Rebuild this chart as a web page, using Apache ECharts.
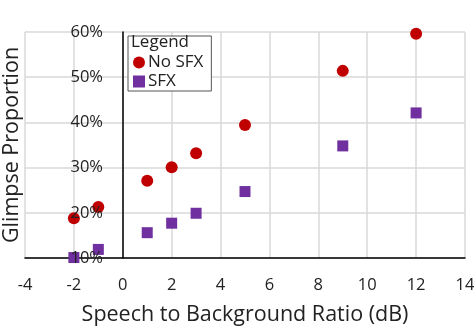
<!DOCTYPE html>
<html><head><meta charset="utf-8">
<script src="https://cdn.jsdelivr.net/npm/echarts@6/dist/echarts.min.js"></script>
<style>html,body{margin:0;padding:0;background:#fff}#c{width:474px;height:327px}</style>
</head><body><div id="c"></div>
<script>
var snr = [-2, -1, 1, 2, 3, 5, 9, 12];
var noSfx = [18.8, 21.3, 27.1, 30.1, 33.2, 39.4, 51.4, 59.6];
var sfx = [10.1, 11.9, 15.6, 17.7, 19.9, 24.7, 34.8, 42.1];
var seriesNames = ['No SFX', 'SFX'];
var xName = 'Speech to Background Ratio (dB)';
var yName = 'Glimpse Proportion';
var legendTitle = 'Legend';

var font = 'Open Sans';
var chart = echarts.init(document.getElementById('c'), null, {renderer: 'canvas'});
function pairs(xs, ys) { return xs.map(function (x, i) { return [x, ys[i]]; }); }
chart.setOption({
  animation: false,
  textStyle: {fontFamily: font},
  grid: {left: 25, right: 9, top: 32, bottom: 69, containLabel: false, outerBoundsMode: 'none'},
  xAxis: {
    type: 'value', min: -4, max: 14, interval: 2,
    name: xName, nameLocation: 'middle', nameGap: 46,
    nameTextStyle: {fontSize: 21.5, color: '#222', fontFamily: font},
    axisLine: {onZero: false, lineStyle: {color: '#000', width: 1.5}},
    axisTick: {show: false},
    axisLabel: {fontSize: 16.5, color: '#222', margin: 19, fontFamily: font},
    splitLine: {show: true, lineStyle: {color: '#d9d9d9', width: 1.5}}
  },
  yAxis: [{
    type: 'value', min: 10, max: 60, interval: 10, position: 'left',
    axisLine: {show: false}, axisTick: {show: false}, axisLabel: {show: false},
    splitLine: {show: true, lineStyle: {color: '#d9d9d9', width: 1.5}}
  }, {
    type: 'value', min: 10, max: 60, interval: 10, position: 'left',
    offset: -98, z: 5,
    name: yName, nameLocation: 'middle', nameGap: 100,
    nameTextStyle: {fontSize: 21.5, color: '#222', fontFamily: font},
    axisLine: {show: true, onZero: false, lineStyle: {color: '#000', width: 1.5}},
    axisTick: {show: false},
    axisLabel: {fontSize: 16.5, color: '#222', margin: 20, formatter: '{value}%', fontFamily: font},
    splitLine: {show: false}
  }],
  legend: {
    orient: 'vertical', left: 128, top: 36,
    padding: [18, 8, 1, 5], itemGap: 2, itemWidth: 12, itemHeight: 12,
    borderColor: '#555', borderWidth: 1, backgroundColor: '#fff',
    textStyle: {fontSize: 17, color: '#222', fontFamily: font, padding: [0, 0, 0, -2]},
    data: [{name: seriesNames[0], icon: 'circle'}, {name: seriesNames[1], icon: 'rect'}]
  },
  graphic: [{type: 'text', left: 131, top: 34, z: 100,
    style: {text: legendTitle, fontSize: 17, fill: '#222', fontFamily: font}}],
  series: [
    {name: seriesNames[0], type: 'scatter', symbol: 'circle', symbolSize: 12, z: 2, yAxisIndex: 0,
     itemStyle: {color: '#c00000', opacity: 1}, data: pairs(snr, noSfx)},
    {name: seriesNames[1], type: 'scatter', symbol: 'rect', symbolSize: 11, z: 2, yAxisIndex: 0,
     itemStyle: {color: '#7030a0', opacity: 1}, data: pairs(snr, sfx)}
  ]
});
</script></body></html>
